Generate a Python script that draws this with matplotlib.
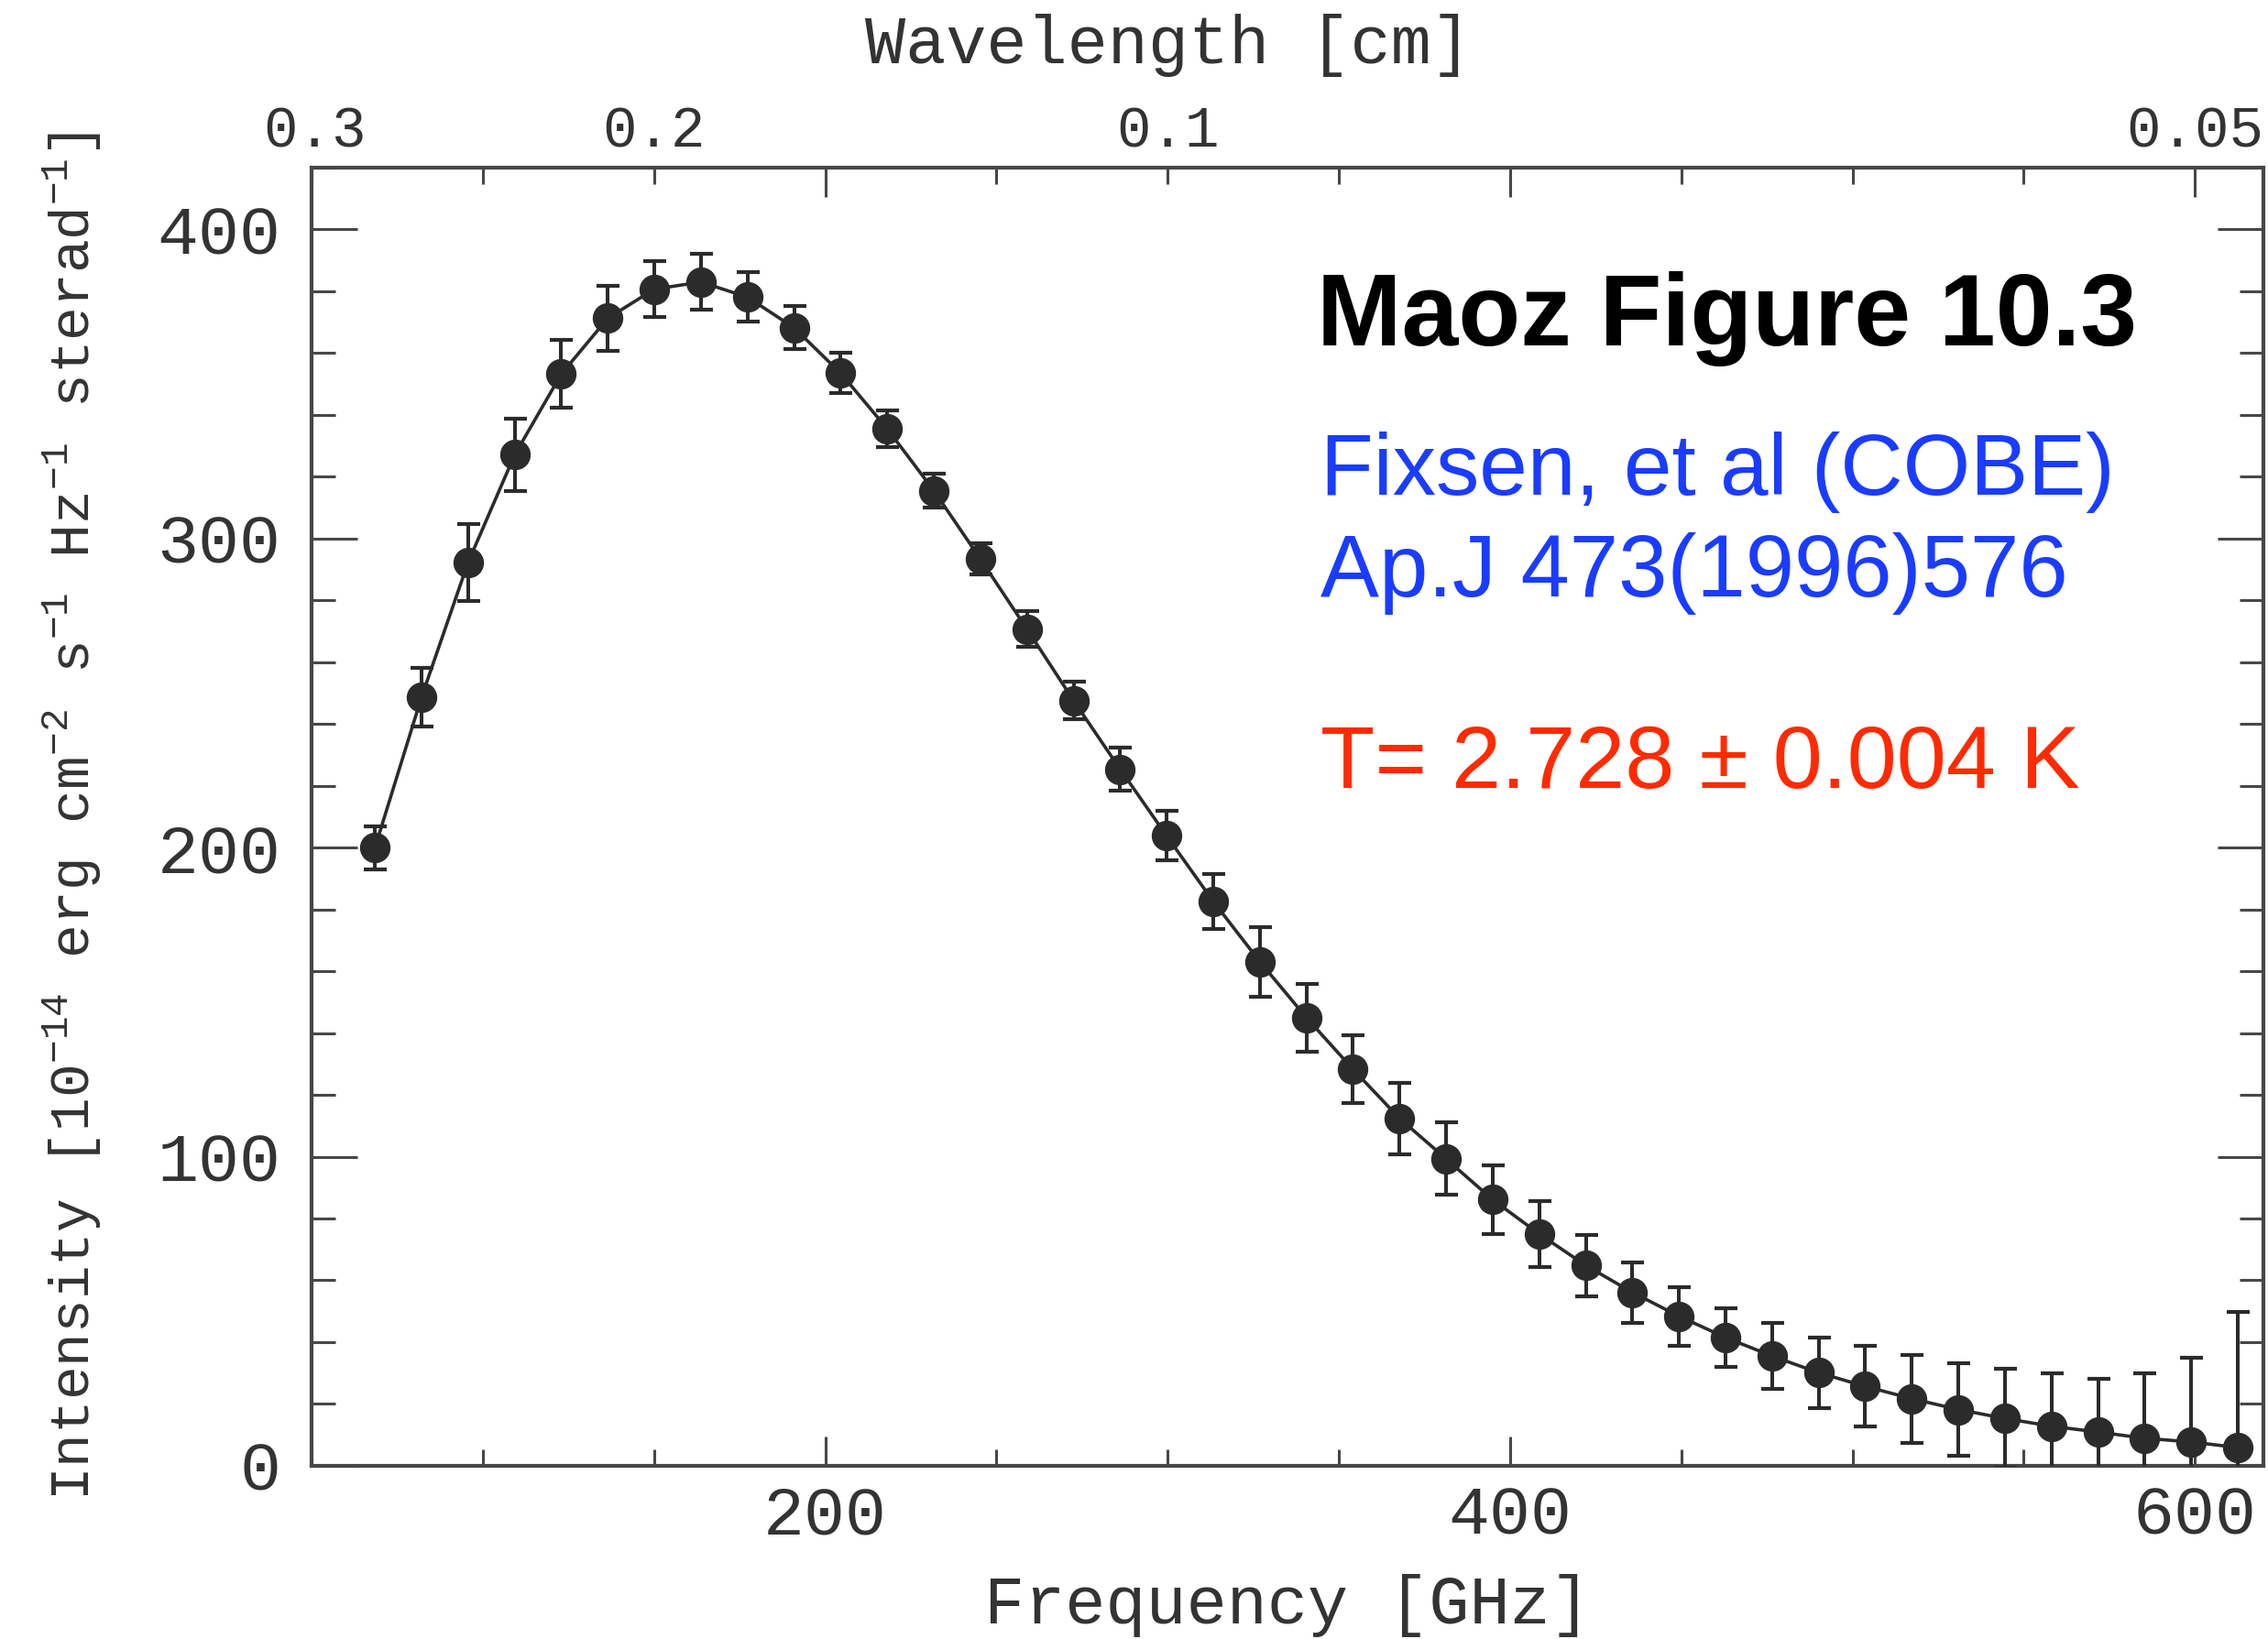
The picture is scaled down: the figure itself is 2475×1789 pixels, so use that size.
import matplotlib
matplotlib.use('Agg')
import matplotlib.pyplot as plt
from matplotlib.ticker import MultipleLocator, FixedLocator

# Data
freq_ghz = [68.5, 82.1, 95.7, 109.3, 122.9, 136.5, 150.1, 163.7, 177.3, 190.9,
            204.5, 218.1, 231.7, 245.3, 258.9, 272.5, 286.1, 299.7, 313.3, 326.9,
            340.5, 354.1, 367.7, 381.3, 394.9, 408.5, 422.1, 435.7, 449.3, 462.9,
            476.5, 490.1, 503.7, 517.3, 530.9, 544.5, 558.1, 571.7, 585.3, 598.9,
            612.5]
intensity = [200.0, 248.7, 292.3, 327.1, 353.2, 371.3, 380.7, 383.0, 378.1, 368.2,
             353.5, 335.5, 315.5, 293.4, 270.7, 247.6, 225.4, 203.8, 182.6, 163.1,
             145.0, 128.3, 112.4, 99.3, 86.1, 75.0, 64.8, 56.1, 48.4, 41.5,
             35.5, 30.1, 25.7, 21.7, 18.2, 15.3, 12.8, 10.9, 8.9, 7.7,
             5.9]
error = [7.0, 9.5, 12.5, 11.6, 11.0, 10.6, 9.0, 9.0, 8.0, 7.0,
         6.5, 6.0, 5.5, 5.0, 5.7, 6.0, 7.0, 8.0, 9.0, 11.3,
         11.0, 11.0, 11.5, 11.7, 11.0, 10.7, 10.0, 9.8, 9.5, 9.5,
         10.7, 11.4, 13.0, 14.2, 15.0, 16.0, 17.0, 17.3, 21.0, 27.3,
         44.0]

x_ticks = [200, 400, 600]
y_ticks = [0, 100, 200, 300, 400]
wl_tick_pos = [51, 150, 300, 600]
wl_tick_labels = ['0.3', '0.2', '0.1', '0.05']

MONO = 'Liberation Mono'
INK = '#2b2b2b'
AX = '#474747'
TXT = '#333333'

plt.rcParams['mathtext.fontset'] = 'custom'
plt.rcParams['mathtext.rm'] = MONO
plt.rcParams['mathtext.default'] = 'rm'

fig = plt.figure(figsize=(24.75, 17.89), dpi=100)
ax = fig.add_axes([0.1374, 0.1057, 0.8606, 0.792])

ax.errorbar(freq_ghz, intensity, yerr=error, fmt='-o', color=INK, ms=23,
            lw=2.6, elinewidth=2.9, capsize=9, capthick=3.0, clip_on=True,
            zorder=3)

ax.set_xlim(50, 620)
ax.set_ylim(0, 420)

# secondary (wavelength) axis on top
ax2 = ax.twiny()
ax2.set_xlim(ax.get_xlim())
ax2.set_xticks(wl_tick_pos)
ax2.set_xticklabels(wl_tick_labels, fontfamily=MONO, fontsize=45, color=TXT)
ax2.tick_params(axis='x', length=0, pad=7)
for s in ax2.spines.values():
    s.set_visible(False)
ax2.set_xlabel('Wavelength [cm]', fontfamily=MONO, fontsize=53, color=TXT)
ax2.xaxis.label.set_va('center')
ax2.xaxis.set_label_coords(0.439, 1.094)

ax.xaxis.set_major_locator(FixedLocator(x_ticks))
ax.xaxis.set_minor_locator(MultipleLocator(50))
ax.yaxis.set_major_locator(FixedLocator(y_ticks))
ax.yaxis.set_minor_locator(MultipleLocator(20))

for s in ax.spines.values():
    s.set_linewidth(3)
    s.set_color(AX)

ax.tick_params(axis='both', which='both', direction='in', top=True, right=True,
               labeltop=False, labelright=False, color=AX, labelcolor=TXT)
ax.tick_params(axis='x', which='major', length=23, width=2.2, pad=15, labelsize=54)
ax.tick_params(axis='x', which='minor', length=13, width=2.2)
ax.tick_params(axis='y', which='major', length=36, width=2.2, pad=24, labelsize=54)
ax.tick_params(axis='y', which='minor', length=19, width=2.2)
for lab in ax.get_xticklabels() + ax.get_yticklabels():
    lab.set_fontfamily(MONO)

ax.set_xlabel('Frequency [GHz]', fontfamily=MONO, fontsize=53, color=TXT,
              labelpad=20)
ax.set_ylabel(r'Intensity [10$^{-14}$ erg cm$^{-2}$ s$^{-1}$ Hz$^{-1}$ sterad$^{-1}$]',
              fontfamily=MONO, fontsize=44, color=TXT)
ax.yaxis.label.set_va('center')
ax.yaxis.set_label_coords(-0.1225, 0.5)

# annotations
ax.text(0.515, 0.863, 'Maoz Figure 10.3', transform=ax.transAxes,
        fontfamily='Liberation Sans', fontweight='bold', fontsize=80, color='black',
        va='baseline', ha='left')
ax.text(0.517, 0.748, 'Fixsen, et al (COBE)', transform=ax.transAxes,
        fontfamily='Liberation Sans', fontsize=68, color='#1a3cff',
        va='baseline', ha='left')
ax.text(0.517, 0.670, 'Ap.J 473(1996)576', transform=ax.transAxes,
        fontfamily='Liberation Sans', fontsize=69, color='#1a3cff',
        va='baseline', ha='left')
ax.text(0.517, 0.522, 'T= 2.728 \u00b1 0.004 K', transform=ax.transAxes,
        fontfamily='Liberation Sans', fontsize=70, color='#ff2a00',
        va='baseline', ha='left')

fig.savefig('out.png', dpi=100, facecolor='white')
